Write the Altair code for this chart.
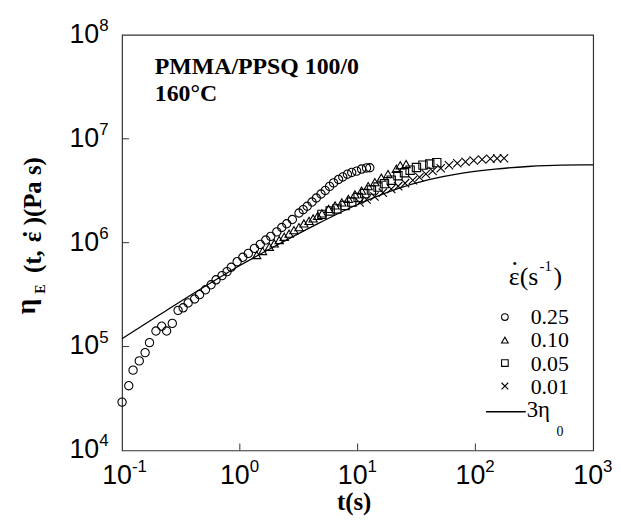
import altair as alt
import pandas as pd

# ---------------- data ----------------
rates = ["0.25", "0.10", "0.05", "0.01"]

t_025 = [0.100, 0.114, 0.124, 0.140, 0.157, 0.171, 0.194, 0.217, 0.239, 0.267,
         0.299, 0.330, 0.364, 0.413, 0.455, 0.511, 0.570, 0.628, 0.706, 0.778,
         0.845, 0.949, 1.06, 1.18, 1.33, 1.49, 1.66, 1.83, 2.06, 2.27,
         2.50, 2.79, 3.18, 3.45, 3.73, 4.10, 4.46, 4.89, 5.31, 5.78,
         6.25, 6.89, 7.48, 8.19, 8.91, 9.81, 10.8, 11.9, 12.7]
eta_025 = [2.92e4, 4.20e4, 5.93e4, 7.28e4, 8.75e4, 1.09e5, 1.41e5, 1.57e5, 1.41e5, 1.67e5,
           2.23e5, 2.36e5, 2.63e5, 2.87e5, 3.16e5, 3.52e5, 3.93e5, 4.39e5, 4.82e5, 5.26e5,
           5.80e5, 6.56e5, 7.23e5, 7.89e5, 8.81e5, 9.62e5, 1.06e6, 1.15e6, 1.27e6, 1.40e6,
           1.52e6, 1.67e6, 1.93e6, 2.08e6, 2.24e6, 2.46e6, 2.69e6, 2.94e6, 3.18e6, 3.48e6,
           3.76e6, 4.06e6, 4.29e6, 4.56e6, 4.74e6, 4.88e6, 5.11e6, 5.24e6, 5.26e6]

t_010 = [1.39, 1.56, 1.78, 1.96, 2.16, 2.38, 2.62, 2.88, 3.18, 3.50,
         3.87, 4.19, 4.58, 4.98, 5.67, 6.44, 7.34, 8.35, 9.49, 10.8,
         12.3, 14.0, 15.9, 18.1, 21.3, 23.0, 25.8]
eta_010 = [7.60e5, 8.30e5, 9.12e5, 9.82e5, 1.06e6, 1.14e6, 1.22e6, 1.32e6, 1.41e6, 1.53e6,
           1.62e6, 1.71e6, 1.81e6, 1.91e6, 2.11e6, 2.28e6, 2.44e6, 2.64e6, 2.91e6, 3.17e6,
           3.50e6, 3.82e6, 4.22e6, 4.58e6, 5.14e6, 5.56e6, 5.71e6]

t_005 = [4.98, 5.85, 6.66, 7.82, 8.91, 10.1, 11.5, 13.1, 14.9, 16.9,
         19.3, 22.0, 25.0, 27.9, 31.6, 35.9, 41.0, 47.0]
eta_005 = [1.87e6, 2.02e6, 2.11e6, 2.28e6, 2.46e6, 2.72e6, 2.97e6, 3.21e6, 3.43e6, 3.70e6,
           3.99e6, 4.41e6, 4.71e6, 4.98e6, 5.29e6, 5.58e6, 5.71e6, 5.89e6]

t_001 = [10.4, 11.9, 13.9, 16.4, 19.3, 22.1, 25.3, 29.4, 33.5, 38.0,
         43.3, 50.8, 59.7, 70.2, 82.4, 96.8, 114, 134, 153, 175]
eta_001 = [2.44e6, 2.60e6, 2.78e6, 3.03e6, 3.28e6, 3.50e6, 3.74e6, 3.99e6, 4.27e6, 4.58e6,
           4.89e6, 5.20e6, 5.56e6, 5.81e6, 6.00e6, 6.17e6, 6.31e6, 6.41e6, 6.45e6, 6.50e6]

t_env = [0.1, 0.205, 0.461, 1.0, 2.09, 4.52, 10.0, 21.3, 40.3, 77.8, 147, 279, 538, 1000]
eta_env = [1.19e5, 2.00e5, 3.56e5, 6.03e5, 9.55e5, 1.51e6, 2.33e6, 3.28e6, 4.04e6,
           4.68e6, 5.11e6, 5.41e6, 5.58e6, 5.61e6]

x_ticks = [0.1, 1, 10, 100, 1000]
x_exp = ["-1", "0", "1", "2", "3"]
y_ticks = [1e4, 1e5, 1e6, 1e7, 1e8]
y_exp = ["4", "5", "6", "7", "8"]

# ---------------- chart ----------------
W, H = 475, 419
SERIF = "Liberation Serif"
SANS = "Liberation Sans"
X_PATH = "M-1,-1L1,1M-1,1L1,-1"
shapes = ["circle", "triangle-up", "square", X_PATH]

series = [(t_025, eta_025), (t_010, eta_010), (t_005, eta_005), (t_001, eta_001)]
frames = []
for r, (tt, ee) in zip(rates, series):
    frames.append(pd.DataFrame({"t": tt, "eta": ee, "rate": r}))
pts_df = pd.concat(frames, ignore_index=True)
env_df = pd.DataFrame({"t": t_env, "eta": eta_env})

xs = alt.Scale(type="log", domain=[0.1, 1000], nice=False)
ys = alt.Scale(type="log", domain=[1e4, 1e8], nice=False)


def X(f="t"):
    return alt.X(f"{f}:Q", scale=xs, axis=None)


def Y(f="eta"):
    return alt.Y(f"{f}:Q", scale=ys, axis=None)


line = alt.Chart(env_df).mark_line(color="black", strokeWidth=1.3, interpolate="monotone").encode(
    x=X(), y=Y())

points = alt.Chart(pts_df).mark_point(filled=False, color="black", strokeWidth=1.1, size=70,
                                      opacity=1).encode(
    x=X(), y=Y(),
    shape=alt.Shape("rate:N", scale=alt.Scale(domain=rates, range=shapes), legend=None))

ytick_df = pd.DataFrame({"v": y_ticks[1:-1]})
xtick_df = pd.DataFrame({"v": x_ticks[1:-1]})
yticks = alt.Chart(ytick_df).mark_rule(color="#333", strokeWidth=1).encode(
    y=Y("v"), x=alt.value(0), x2=alt.value(7))
xticks = alt.Chart(xtick_df).mark_rule(color="#333", strokeWidth=1).encode(
    x=X("v"), y=alt.value(H), y2=alt.value(H - 7))

ylab_df = pd.DataFrame({"v": y_ticks, "e": y_exp})
xlab_df = pd.DataFrame({"v": x_ticks, "e": x_exp})
ylab_base = alt.Chart(ylab_df).mark_text(text="10", align="right", baseline="alphabetic",
                                         font=SANS, fontSize=27, dy=8, color="black").encode(
    y=Y("v"), x=alt.value(-23))
ylab_exp = alt.Chart(ylab_df).mark_text(align="left", baseline="alphabetic",
                                        font=SANS, fontSize=17, dy=-4, color="black").encode(
    y=Y("v"), x=alt.value(-23), text="e:N")
xlab_base = alt.Chart(xlab_df).mark_text(text="10", align="right", baseline="alphabetic",
                                         font=SANS, fontSize=27, dx=10, color="black").encode(
    x=X("v"), y=alt.value(H + 34))
xlab_exp = alt.Chart(xlab_df).mark_text(align="left", baseline="alphabetic",
                                        font=SANS, fontSize=17, dx=10, color="black").encode(
    x=X("v"), y=alt.value(H + 22), text="e:N")


def txt(s, x, y, size, bold=False, angle=0, align="left", font=SERIF):
    kw = dict(text=s, align=align, baseline="alphabetic", font=font, fontSize=size,
              color="black", fontWeight="bold" if bold else "normal")
    if angle:
        kw["angle"] = angle
    return alt.Chart(env_df.head(1)).mark_text(**kw).encode(x=alt.value(x), y=alt.value(y))


texts = [
    txt("PMMA/PPSQ 100/0", 33, 39, 24, bold=True),
    txt("160°C", 33, 67, 24, bold=True),
    txt("t(s)", 234, 479, 25, bold=True, align="center"),
    # y title, in pieces (reads bottom to top)
    txt("η", -88, 282, 28, bold=True, angle=270),
    txt("E", -78, 261, 14, bold=True, angle=270),
    txt("(t,", -82, 240, 25, bold=True, angle=270),
    txt("ε", -82, 209, 25, bold=True, angle=270),
    txt(".", -96, 201, 25, bold=True, angle=270, align="center"),
    txt(")(Pa s)", -82, 192, 25, bold=True, angle=270),
    # legend title
    txt("ε(s", 390, 252, 26),
    txt(".", 396, 232, 26, align="center"),
    txt("-1", 421, 238, 15),
    txt(")", 435, 252, 26),
    # envelope legend entry
    txt("3η", 408, 385, 23),
    txt("0", 438, 404, 14),
]

legend_layers = []
for i, (r, shp) in enumerate(zip(rates, shapes)):
    yy = 284.5 + 23.2 * i
    legend_layers.append(
        alt.Chart(env_df.head(1)).mark_point(shape=shp, filled=False, color="black",
                                             strokeWidth=1.1, size=45, opacity=1).encode(
            x=alt.value(386), y=alt.value(yy)))
    legend_layers.append(txt(r, 412, yy + 7.5, 22))
legend_layers.append(
    alt.Chart(env_df.head(1)).mark_rule(color="black", strokeWidth=1.3).encode(
        x=alt.value(367), x2=alt.value(407), y=alt.value(380)))

chart = alt.layer(
    line, points, yticks, xticks, ylab_base, ylab_exp, xlab_base, xlab_exp,
    *texts, *legend_layers
).properties(
    width=W, height=H,
    padding={"left": 115, "top": 25, "right": 20, "bottom": 65},
    autosize=alt.AutoSizeParams(type="none"),
).configure_view(stroke="#333", strokeWidth=1.2)

chart.save("out.html", embed_options={"renderer": "svg", "actions": False})
